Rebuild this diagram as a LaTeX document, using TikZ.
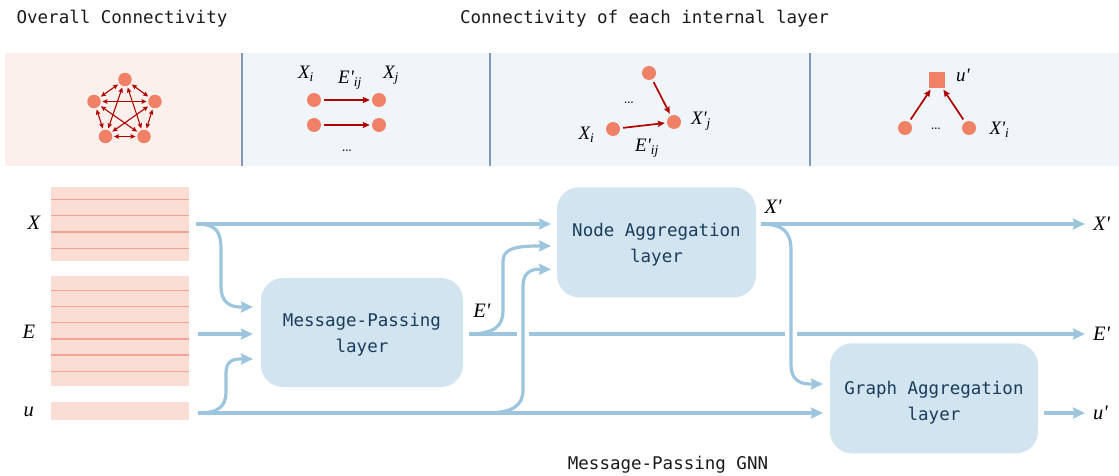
\documentclass[tikz,border=0pt]{standalone}
\usepackage{fontspec}
\setmonofont{DejaVu Sans Mono}
\newfontfamily\labfont{Liberation Serif}
\usetikzlibrary{arrows.meta}
\definecolor{bandpink}{HTML}{FBF0EC}
\definecolor{bandblue}{HTML}{F0F5FA}
\definecolor{divider}{HTML}{7F99B6}
\definecolor{coral}{HTML}{F08166}
\definecolor{edgered}{HTML}{B00000}
\definecolor{stripfill}{HTML}{FADDD5}
\definecolor{stripline}{HTML}{F3A592}
\definecolor{boxfill}{HTML}{D2E4F0}
\definecolor{flow}{HTML}{9DC5DE}
\definecolor{boxtext}{HTML}{1A3D5C}
\definecolor{titletext}{HTML}{1A1A1A}
\newcommand\lab[1]{{\labfont\itshape #1}}
\tikzset{
  gdot/.style={circle, fill=coral, inner sep=0pt, minimum size=14pt},
  pdot/.style={circle, fill=coral, inner sep=0pt, minimum size=13.5pt},
  sqnode/.style={rectangle, fill=coral, inner sep=0pt, minimum size=15.5pt},
  redge/.style={draw=edgered, line width=1.7pt, -{Stealth[length=7pt,width=6pt,inset=1pt]}, shorten >=2pt, shorten <=3pt},
  pedge/.style={draw=edgered, line width=1.1pt, {Stealth[length=5pt,width=4.5pt,inset=0.8pt]}-{Stealth[length=5pt,width=4.5pt,inset=0.8pt]}, shorten >=1.5pt, shorten <=1.5pt},
  titlefont/.style={font=\fontsize{17.5}{21}\selectfont\ttfamily, text=titletext, inner sep=0pt},
  layerbox/.style={rectangle, rounded corners=22pt, fill=boxfill},
  boxlabel/.style={align=center, text=boxtext, inner sep=0pt, font=\fontsize{17.5}{26}\selectfont\ttfamily},
  flowarrow/.style={draw=flow, line width=3.2pt, -{Stealth[length=12pt,width=11pt,inset=1.5pt]}},
  toplab/.style={font=\fontsize{19}{21}\selectfont, inner sep=0pt, anchor=base},
  biglab/.style={font=\fontsize{20.5}{22}\selectfont, inner sep=0pt},
  stripbox/.style={rectangle, fill=stripfill, inner sep=0pt, anchor=north west},
  stripsep/.style={draw=stripline, line width=1.4pt},
}
\begin{document}
\begin{tikzpicture}[x=1pt,y=-1pt]
\useasboundingbox (0,0) rectangle (1119,476);
% titles
\node[titlefont, anchor=base] (t1) at (122,23.5) {Overall Connectivity};
\node[titlefont, anchor=base] (t2) at (644.5,23.5) {Connectivity of each internal layer};
\node[titlefont, anchor=base] (t3) at (668,469) {Message-Passing GNN};
% top band
\fill[bandpink] (5,53) rectangle (242,166);
\fill[bandblue] (242,53) rectangle (1119,166);
\foreach \xx in {242,490,810} \draw[divider, line width=2pt] (\xx,53) -- (\xx,166);
% pentagon
\node[pdot] (p1) at (125,79.5) {};
\node[pdot] (p2) at (155,101.5) {};
\node[pdot] (p3) at (144,136.5) {};
\node[pdot] (p4) at (105.5,136.5) {};
\node[pdot] (p5) at (94,101.5) {};
\foreach \a/\b in {p1/p2,p1/p3,p1/p4,p1/p5,p2/p3,p2/p4,p2/p5,p3/p4,p3/p5,p4/p5}
  \draw[pedge] (\a) -- (\b);
% panel 2
\node[gdot] (a1) at (314,100) {};
\node[gdot] (a2) at (379,100) {};
\node[gdot] (a3) at (314,125) {};
\node[gdot] (a4) at (379,125) {};
\draw[redge] (a1) -- (a2);
\draw[redge] (a3) -- (a4);
\node[toplab] (la1) at (306,79) {\lab{X\textsubscript{i}}};
\node[toplab] (la2) at (350,84) {\lab{E'\textsubscript{ij}}};
\node[toplab] (la3) at (391,78.3) {\lab{X\textsubscript{j}}};
\node[toplab] (ld2) at (347,151.5) {\ldots};
% panel 3
\node[gdot] (b1) at (649,73) {};
\node[gdot] (b2) at (674,122) {};
\node[gdot] (b3) at (613,129) {};
\draw[redge] (b1) -- (b2);
\draw[redge] (b3) -- (b2);
\node[toplab] (lb1) at (586.5,139.3) {\lab{X\textsubscript{i}}};
\node[toplab] (lb2) at (701,125) {\lab{X'\textsubscript{j}}};
\node[toplab] (lb3) at (647,151.7) {\lab{E'\textsubscript{ij}}};
\node[toplab] (ld3) at (629,103.3) {\ldots};
% panel 4
\node[sqnode] (s) at (937,80) {};
\node[gdot] (c1) at (905,128) {};
\node[gdot] (c2) at (969,128) {};
\draw[redge] (c1) -- (s);
\draw[redge] (c2) -- (s);
\node[toplab] (lc1) at (963,81.7) {\lab{u'}};
\node[toplab] (lc2) at (999.5,135) {\lab{X'\textsubscript{i}}};
\node[toplab] (ld4) at (936,130) {\ldots};
% strips
\node[stripbox, minimum width=138pt, minimum height=74pt] (xs) at (51,187) {};
\foreach \yy in {199.3,215.6,231.9,248.2} \draw[stripsep] (51,\yy) -- (189,\yy);
\node[stripbox, minimum width=138pt, minimum height=110pt] (es) at (51,276) {};
\foreach \yy in {290.3,306.5,322.7,338.9,355.1,371.3} \draw[stripsep] (51,\yy) -- (189,\yy);
\node[stripbox, minimum width=138pt, minimum height=18pt] (us) at (51,402) {};
\node[biglab] (lx) at (34,223) {\lab{X}};
\node[biglab] (le) at (29,332) {\lab{E}};
\node[biglab] (lu) at (28.7,412) {\lab{u}};
% layer boxes
\node[layerbox, minimum width=202pt, minimum height=109pt] (mp) at (362,332.5) {};
\node[boxlabel] (mpt) at ([yshift=-2pt]mp.center) {Message-Passing\\layer};
\node[layerbox, minimum width=199pt, minimum height=110pt] (na) at (656.5,242.3) {};
\node[boxlabel] (nat) at ([yshift=-2.5pt]na.center) {Node Aggregation\\layer};
\node[layerbox, minimum width=208pt, minimum height=110pt] (ga) at (934,398.3) {};
\node[boxlabel] (gat) at ([yshift=-4.5pt]ga.center) {Graph Aggregation\\layer};
% connection points
\coordinate (xo) at (196,224);
\coordinate (eo) at (198,334);
\coordinate (uo) at (198,413);
\coordinate (mpx) at (253,307);
\coordinate (mpe) at (253,334);
\coordinate (mpu) at (253,359);
\coordinate (nax) at (551,224);
\coordinate (nae) at (551,246);
\coordinate (nau) at (551,269.3);
\coordinate (ep) at (469,334);
\coordinate (xp) at (761,224);
\coordinate (gax) at (823,384);
\coordinate (gau) at (823,413);
\coordinate (up) at (1044,413);
\coordinate (xout) at (1085,224);
\coordinate (eout) at (1085,334);
\coordinate (uout) at (1085,413);
% flows
\draw[flowarrow] (ep) -- (eout);
\fill[white] (517,329) rectangle (529,339);
\fill[white] (785,329) rectangle (797,339);
\draw[flowarrow] (xo) -- (nax);
\draw[flowarrow] (xo) .. controls (217,224) and (221,232) .. (221,250) -- (221,287) .. controls (221,301) and (229,307) .. (240,307) -- (mpx);
\draw[flowarrow] (eo) -- (mpe);
\draw[flowarrow] (uo) .. controls (219,413) and (226,406) .. (226,392) -- (226,373) .. controls (226,363) and (231,359) .. (240,359) -- (mpu);
\draw[flowarrow] (uo) -- (gau);
\draw[flowarrow] (ep) .. controls (494,334) and (503,326) .. (503,311) -- (503,262) .. controls (503,251) and (510,246) .. (538,246) -- (nae);
\draw[flowarrow] (uo) -- (486,413) .. controls (512,413) and (523,406) .. (523,390) -- (523,286) .. controls (523,274) and (530,269.3) .. (538,269.3) -- (nau);
\draw[flowarrow] (xp) -- (xout);
\draw[flowarrow] (xp) .. controls (783,224) and (791,232) .. (791,250) -- (791,365) .. controls (791,378) and (798,384) .. (810,384) -- (gax);
\draw[flowarrow] (up) -- (uout);
% flow labels
\node[biglab] (lep) at (481.7,310.7) {\lab{E'}};
\node[biglab] (lxp) at (773,206.7) {\lab{X'}};
\node[biglab, anchor=west] (lxo) at (1093,224) {\lab{X'}};
\node[biglab, anchor=west] (leo) at (1093,334) {\lab{E'}};
\node[biglab, anchor=west] (luo) at (1093,413) {\lab{u'}};
\end{tikzpicture}
\end{document}
